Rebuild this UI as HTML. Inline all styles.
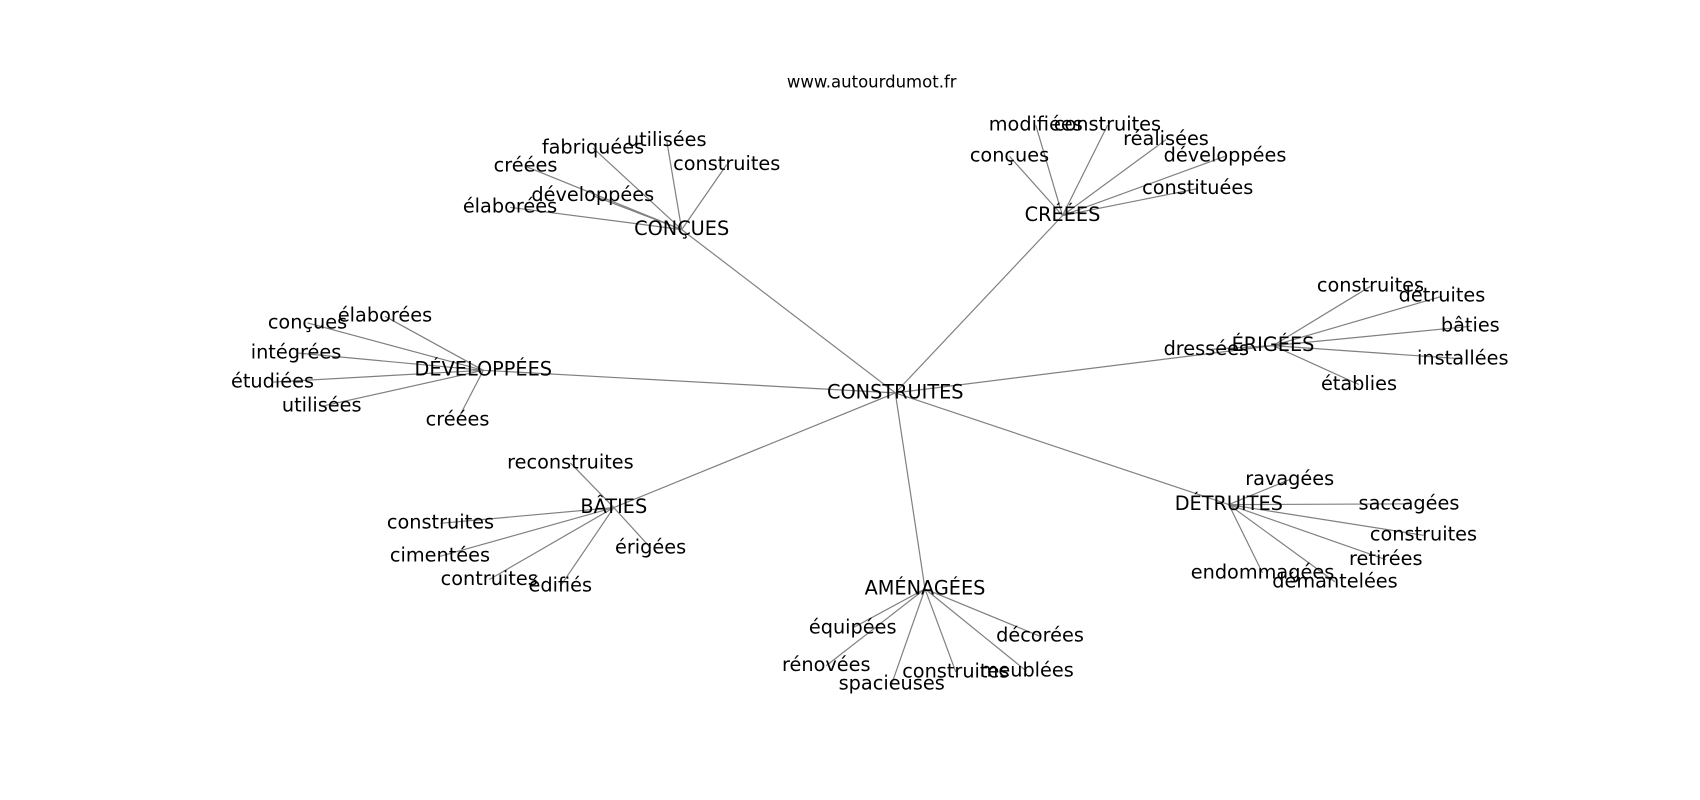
<!DOCTYPE html>
<html>
<head>
<meta charset="utf-8">
<style>
  html, body { margin: 0; padding: 0; background: #ffffff; }
  svg { display: block; }
  text { font-family: "DejaVu Sans", "Liberation Sans", sans-serif; fill: #000; }
  .l { font-size: 19.3px; text-anchor: middle; }
  .t { font-size: 16.5px; text-anchor: middle; }
  line { stroke: #808080; stroke-width: 1.2; }
</style>
</head>
<body>
<svg width="1700" height="800" viewBox="0 0 1700 800" xmlns="http://www.w3.org/2000/svg">
  <rect width="1700" height="800" fill="#ffffff"/>
  <g>
    <!-- hub edges from CONSTRUITES (895.3,392.9) -->
    <line x1="895.3" y1="392.9" x2="681.7" y2="229.6"/>
    <line x1="895.3" y1="392.9" x2="1062.5" y2="215.6"/>
    <line x1="895.3" y1="392.9" x2="483.3" y2="370.3"/>
    <line x1="895.3" y1="392.9" x2="1273" y2="345.6"/>
    <line x1="895.3" y1="392.9" x2="1228.8" y2="504.6"/>
    <line x1="895.3" y1="392.9" x2="613.8" y2="507.6"/>
    <line x1="895.3" y1="392.9" x2="925" y2="588.9"/>

    <!-- CONÇUES (681.7,229.6) -->
    <line x1="681.7" y1="229.6" x2="593" y2="147.9"/>
    <line x1="681.7" y1="229.6" x2="666.7" y2="140.6"/>
    <line x1="681.7" y1="229.6" x2="726.7" y2="164.6"/>
    <line x1="681.7" y1="229.6" x2="525.5" y2="166.3"/>
    <line x1="681.7" y1="229.6" x2="592.8" y2="195.6"/>
    <line x1="681.7" y1="229.6" x2="510" y2="207.3"/>

    <!-- CRÉÉES (1062.5,215.6) -->
    <line x1="1062.5" y1="215.6" x2="1035.8" y2="125.3"/>
    <line x1="1062.5" y1="215.6" x2="1107.5" y2="125.3"/>
    <line x1="1062.5" y1="215.6" x2="1166" y2="139.6"/>
    <line x1="1062.5" y1="215.6" x2="1009.5" y2="156.3"/>
    <line x1="1062.5" y1="215.6" x2="1225" y2="156.3"/>
    <line x1="1062.5" y1="215.6" x2="1197.7" y2="188.6"/>

    <!-- DÉVELOPPÉES (483.3,370.3) -->
    <line x1="483.3" y1="370.3" x2="307.5" y2="322.9"/>
    <line x1="483.3" y1="370.3" x2="385" y2="316.3"/>
    <line x1="483.3" y1="370.3" x2="296" y2="352.9"/>
    <line x1="483.3" y1="370.3" x2="272.5" y2="382.1"/>
    <line x1="483.3" y1="370.3" x2="321.7" y2="406.3"/>
    <line x1="483.3" y1="370.3" x2="457.5" y2="420.1"/>

    <!-- ÉRIGÉES (1273,345.6) -->
    <line x1="1273" y1="345.6" x2="1370.5" y2="286.3"/>
    <line x1="1273" y1="345.6" x2="1442" y2="296.3"/>
    <line x1="1273" y1="345.6" x2="1470.3" y2="326.3"/>
    <line x1="1273" y1="345.6" x2="1462.8" y2="358.9"/>
    <line x1="1273" y1="345.6" x2="1359" y2="384.6"/>
    <line x1="1273" y1="345.6" x2="1206.3" y2="349.6"/>

    <!-- DÉTRUITES (1228.8,504.6) -->
    <line x1="1228.8" y1="504.6" x2="1289.7" y2="479.6"/>
    <line x1="1228.8" y1="504.6" x2="1409" y2="503.9"/>
    <line x1="1228.8" y1="504.6" x2="1423.5" y2="535.3"/>
    <line x1="1228.8" y1="504.6" x2="1385.8" y2="559.6"/>
    <line x1="1228.8" y1="504.6" x2="1262.5" y2="572.9"/>
    <line x1="1228.8" y1="504.6" x2="1335" y2="581.9"/>

    <!-- BÂTIES (613.8,507.6) -->
    <line x1="613.8" y1="507.6" x2="570.4" y2="462.9"/>
    <line x1="613.8" y1="507.6" x2="440.5" y2="523.3"/>
    <line x1="613.8" y1="507.6" x2="440" y2="556.3"/>
    <line x1="613.8" y1="507.6" x2="650.6" y2="547.9"/>
    <line x1="613.8" y1="507.6" x2="489.2" y2="579.6"/>
    <line x1="613.8" y1="507.6" x2="560.3" y2="586.3"/>

    <!-- AMÉNAGÉES (925,588.9) -->
    <line x1="925" y1="588.9" x2="852.7" y2="627.9"/>
    <line x1="925" y1="588.9" x2="1040" y2="636.3"/>
    <line x1="925" y1="588.9" x2="826.3" y2="665.6"/>
    <line x1="925" y1="588.9" x2="891.7" y2="683.9"/>
    <line x1="925" y1="588.9" x2="955.8" y2="671.9"/>
    <line x1="925" y1="588.9" x2="1026.7" y2="671.3"/>
  </g>

  <g>
    <text class="t" x="871.7" y="87.7">www.autourdumot.fr</text>

    <!-- hubs -->
    <text class="l" x="895.3" y="398.3">CONSTRUITES</text>
    <text class="l" x="681.7" y="235">CONÇUES</text>
    <text class="l" x="1062.5" y="221">CRÉÉES</text>
    <text class="l" x="483.3" y="375.7">DÉVELOPPÉES</text>
    <text class="l" x="1273" y="351">ÉRIGÉES</text>
    <text class="l" x="1228.8" y="510">DÉTRUITES</text>
    <text class="l" x="613.8" y="513">BÂTIES</text>
    <text class="l" x="925" y="594.3">AMÉNAGÉES</text>

    <!-- CONÇUES leaves -->
    <text class="l" x="593" y="153.3">fabriquées</text>
    <text class="l" x="666.7" y="146">utilisées</text>
    <text class="l" x="726.7" y="170">construites</text>
    <text class="l" x="525.5" y="171.7">créées</text>
    <text class="l" x="592.8" y="201">développées</text>
    <text class="l" x="510" y="212.7">élaborées</text>

    <!-- CRÉÉES leaves -->
    <text class="l" x="1035.8" y="130.7">modifiées</text>
    <text class="l" x="1107.5" y="130.7">construites</text>
    <text class="l" x="1166" y="145">réalisées</text>
    <text class="l" x="1009.5" y="161.7">conçues</text>
    <text class="l" x="1225" y="161.7">développées</text>
    <text class="l" x="1197.7" y="194">constituées</text>

    <!-- DÉVELOPPÉES leaves -->
    <text class="l" x="307.5" y="328.3">conçues</text>
    <text class="l" x="385" y="321.7">élaborées</text>
    <text class="l" x="296" y="358.3">intégrées</text>
    <text class="l" x="272.5" y="387.5">étudiées</text>
    <text class="l" x="321.7" y="411.7">utilisées</text>
    <text class="l" x="457.5" y="425.5">créées</text>

    <!-- ÉRIGÉES leaves -->
    <text class="l" x="1370.5" y="291.7">construites</text>
    <text class="l" x="1442" y="301.7">détruites</text>
    <text class="l" x="1470.3" y="331.7">bâties</text>
    <text class="l" x="1462.8" y="364.3">installées</text>
    <text class="l" x="1359" y="390">établies</text>
    <text class="l" x="1206.3" y="355">dressées</text>

    <!-- DÉTRUITES leaves -->
    <text class="l" x="1289.7" y="485">ravagées</text>
    <text class="l" x="1409" y="509.3">saccagées</text>
    <text class="l" x="1423.5" y="540.7">construites</text>
    <text class="l" x="1385.8" y="565">retirées</text>
    <text class="l" x="1262.5" y="578.3">endommagées</text>
    <text class="l" x="1335" y="587.3">démantelées</text>

    <!-- BÂTIES leaves -->
    <text class="l" x="570.4" y="468.3">reconstruites</text>
    <text class="l" x="440.5" y="528.7">construites</text>
    <text class="l" x="440" y="561.7">cimentées</text>
    <text class="l" x="650.6" y="553.3">érigées</text>
    <text class="l" x="489.2" y="585">contruites</text>
    <text class="l" x="560.3" y="591.7">édifiés</text>

    <!-- AMÉNAGÉES leaves -->
    <text class="l" x="852.7" y="633.3">équipées</text>
    <text class="l" x="1040" y="641.7">décorées</text>
    <text class="l" x="826.3" y="671">rénovées</text>
    <text class="l" x="891.7" y="689.3">spacieuses</text>
    <text class="l" x="955.8" y="677.3">construites</text>
    <text class="l" x="1026.7" y="676.7">meublées</text>
  </g>
</svg>
</body>
</html>
